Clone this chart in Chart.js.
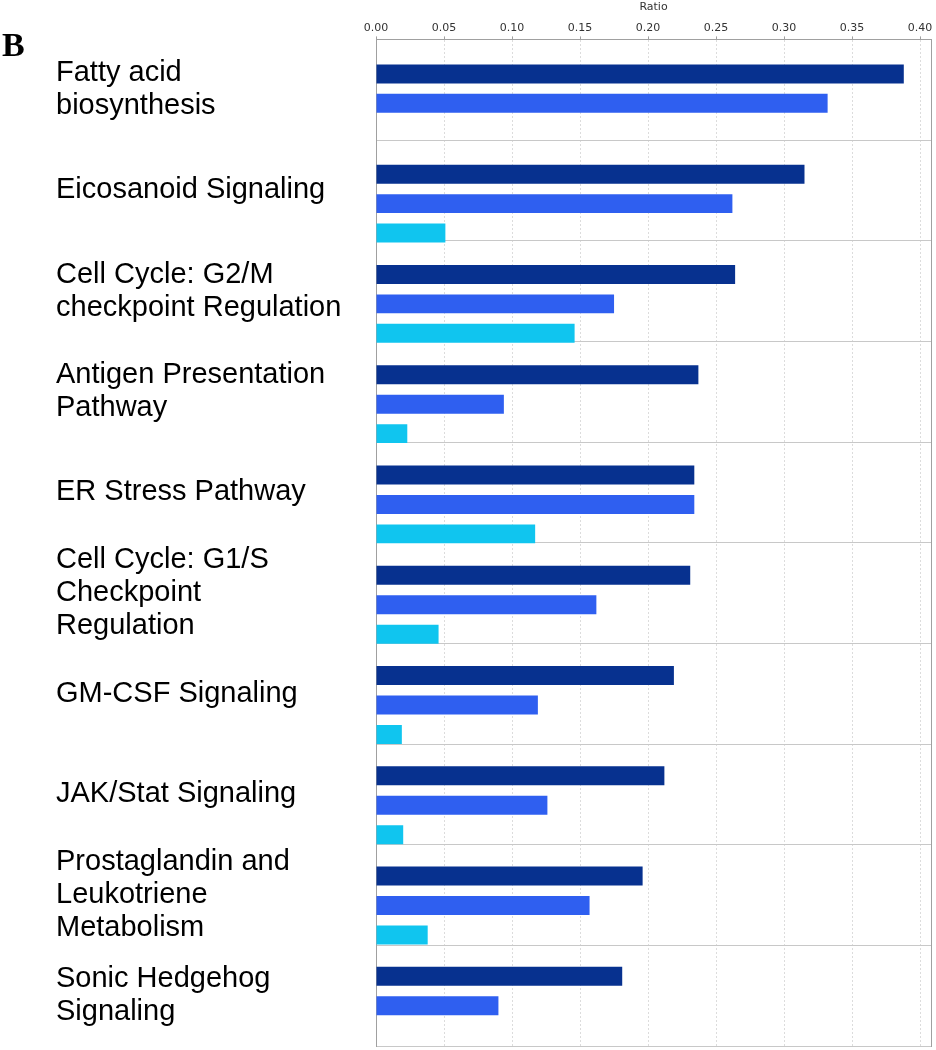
<!DOCTYPE html>
<html>
<head>
<meta charset="utf-8">
<script src="https://cdn.jsdelivr.net/npm/chart.js@4.4.1/dist/chart.umd.min.js"></script>
<style>
    html, body { margin: 0; padding: 0; background: #fff; }
    #wrap { position: relative; width: 936px; height: 1050px; }
    #panel { position: absolute; left: 2px; top: 28px; font: bold 34px 'Liberation Serif', serif; line-height: 1; color: #000; }
</style>
</head>
<body>
<div id="wrap">
    <canvas id="grafica"></canvas>
    <div id="panel">B</div>
</div>
<script>
const categorias = [
    ['Fatty acid', 'biosynthesis'],
    ['Eicosanoid Signaling'],
    ['Cell Cycle: G2/M', 'checkpoint Regulation'],
    ['Antigen Presentation', 'Pathway'],
    ['ER Stress Pathway'],
    ['Cell Cycle: G1/S', 'Checkpoint', 'Regulation'],
    ['GM-CSF Signaling'],
    ['JAK/Stat Signaling'],
    ['Prostaglandin and', 'Leukotriene', 'Metabolism'],
    ['Sonic Hedgehog', 'Signaling']
];

// three series per pathway (dark, medium, light blue)
const ratioOscuro = [0.388, 0.315, 0.264, 0.237, 0.234, 0.231, 0.219, 0.212, 0.196, 0.181];
const ratioMedio  = [0.332, 0.262, 0.175, 0.094, 0.234, 0.162, 0.119, 0.126, 0.157, 0.090];
const ratioClaro  = [null, 0.051, 0.146, 0.023, 0.117, 0.046, 0.019, 0.020, 0.038, null];

const ticksRatio = [0, 0.05, 0.10, 0.15, 0.20, 0.25, 0.30, 0.35, 0.40];
const colores = ['#07318f', '#2f5ff0', '#10c5ef'];

function puntos(valores) {
    return valores.map((v, i) => ({ x: v, y: i })).filter(p => p.x !== null);
}

function serie(valores, color) {
    return {
        data: puntos(valores),
        backgroundColor: color,
        borderWidth: 0,
        categoryPercentage: 0.882,
        barPercentage: 0.644,
        xAxisID: 'x',
        yAxisID: 'y'
    };
}

const ctx = document.getElementById('grafica').getContext('2d');

window.miGrafica = new Chart(ctx, {
    type: 'bar',
    data: {
        labels: categorias,
        datasets: [
            serie(ratioOscuro, colores[0]),
            serie(ratioMedio, colores[1]),
            serie(ratioClaro, colores[2])
        ]
    },
    options: {
        indexAxis: 'y',
        responsive: true,
        maintainAspectRatio: false,
        animation: false,
        layout: { padding: { left: 56, right: 5, top: 0, bottom: 4 } },
        plugins: {
            legend: { display: false },
            tooltip: { enabled: false }
        },
        scales: {
            x: {
                type: 'linear',
                position: 'top',
                min: 0,
                max: 0.408,
                afterBuildTicks: s => { s.ticks = ticksRatio.map(v => ({ value: v })); },
                title: {
                    display: true, text: 'Ratio', color: '#333',
                    font: { family: 'DejaVu Sans', size: 11 },
                    padding: { top: 1, bottom: 5 }
                },
                ticks: {
                    callback: v => Number(v).toFixed(2),
                    color: '#333',
                    font: { family: 'DejaVu Sans', size: 11 },
                    padding: 2, maxRotation: 0, autoSkip: false
                },
                grid: { color: '#dcdcdc', tickColor: '#a0a0a0', tickLength: 3, tickBorderDash: [] },
                border: { color: '#a0a0a0', dash: [2, 2] }
            },
            // bars sit on a linear index axis so the group can sit a bit low in each band
            y: {
                type: 'linear',
                axis: 'y',
                position: 'left',
                display: false,
                reverse: true,
                offset: false,
                min: -0.638,
                max: 9.402,
                afterBuildTicks: s => { s.ticks = categorias.map((c, i) => ({ value: i })); }
            },
            // pathway names and the band separators
            y2: {
                type: 'category',
                axis: 'y',
                position: 'left',
                offset: true,
                afterFit: s => {
                    s.width = 320;
                    s.paddingTop = 0;
                    s.paddingBottom = 0;
                },
                ticks: {
                    crossAlign: 'far',
                    autoSkip: false,
                    color: '#000',
                    font: { family: 'Liberation Sans', size: 29, lineHeight: 1.14 }
                },
                grid: { offset: true, color: '#c8c8c8', drawTicks: false },
                border: { color: '#a0a0a0' }
            },
            yr: {
                type: 'linear',
                axis: 'y',
                position: 'right',
                ticks: { display: false },
                grid: { display: false, drawTicks: false },
                border: { color: '#a0a0a0' }
            }
        }
    }
});
</script>
</body>
</html>
